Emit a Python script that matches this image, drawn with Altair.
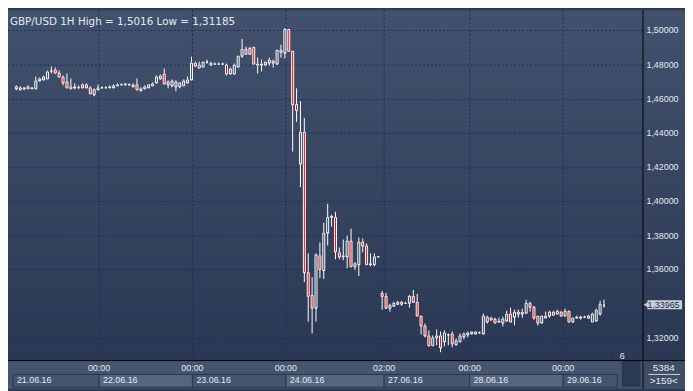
import altair as alt
import pandas as pd

# ---------------- data ----------------
opens = [1.4675, 1.4656, 1.4660, 1.4675, 1.4661, 1.4663, 1.4706, 1.4713, 1.4721, 1.4763,
         1.4771, 1.4756, 1.4729, 1.4702, 1.4663, 1.4670, 1.4666, 1.4686, 1.4667, 1.4667,
         1.4629, 1.4656, 1.4666, 1.4666, 1.4670, 1.4667, 1.4679, 1.4685, 1.4683, 1.4683,
         1.4671, 1.4686, 1.4652, 1.4660, 1.4667, 1.4679, 1.4696, 1.4719, 1.4747, 1.4685,
         1.4681, 1.4673, 1.4673, 1.4681, 1.4696, 1.4712, 1.4812, 1.4785, 1.4789, 1.4815,
         1.4812, 1.4806, 1.4806, 1.4806, 1.4800, 1.4747, 1.4747, 1.4789, 1.4852, 1.4893,
         1.4864, 1.4904, 1.4806, 1.4803, 1.4800, 1.4812, 1.4822, 1.4808, 1.4885, 1.4872,
         1.5007, 1.4883, 1.4567, 1.4220, 1.4405, 1.3583, 1.3452, 1.3375, 1.3683, 1.3598,
         1.3815, 1.3915, 1.3911, 1.3703, 1.3681, 1.3676, 1.3772, 1.3622, 1.3633, 1.3764,
         1.3741, 1.3635, 1.3633, 1.3675, 1.3463, 1.3444, 1.3378, 1.3390, 1.3398, 1.3410,
         1.3407, 1.3406, 1.3448, 1.3410, 1.3329, 1.3274, 1.3213, 1.3158, 1.3205, 1.3216,
         1.3178, 1.3219, 1.3224, 1.3163, 1.3178, 1.3209, 1.3220, 1.3224, 1.3224, 1.3231,
         1.3224, 1.3294, 1.3320, 1.3313, 1.3299, 1.3290, 1.3301, 1.3344, 1.3325, 1.3352,
         1.3344, 1.3348, 1.3406, 1.3383, 1.3329, 1.3290, 1.3320, 1.3332, 1.3355, 1.3344,
         1.3352, 1.3329, 1.3359, 1.3294, 1.3317, 1.3320, 1.3324, 1.3332, 1.3297, 1.3301,
         1.3340, 1.3396]
highs = [1.4679, 1.4671, 1.4670, 1.4679, 1.4670, 1.4729, 1.4725, 1.4737, 1.4767, 1.4787,
         1.4783, 1.4764, 1.4737, 1.4748, 1.4721, 1.4690, 1.4676, 1.4690, 1.4690, 1.4671,
         1.4660, 1.4686, 1.4673, 1.4673, 1.4676, 1.4682, 1.4690, 1.4690, 1.4693, 1.4690,
         1.4690, 1.4721, 1.4667, 1.4679, 1.4686, 1.4696, 1.4738, 1.4742, 1.4777, 1.4708,
         1.4712, 1.4708, 1.4699, 1.4711, 1.4731, 1.4847, 1.4816, 1.4816, 1.4819, 1.4831,
         1.4815, 1.4812, 1.4812, 1.4812, 1.4804, 1.4783, 1.4806, 1.4852, 1.4951, 1.4904,
         1.4902, 1.4907, 1.4839, 1.4831, 1.4818, 1.4839, 1.4829, 1.4887, 1.4918, 1.5016,
         1.5009, 1.4883, 1.4660, 1.4586, 1.4490, 1.3695, 1.3556, 1.3695, 1.3757, 1.3873,
         1.3984, 1.3919, 1.3938, 1.3730, 1.3776, 1.3799, 1.3838, 1.3641, 1.3788, 1.3784,
         1.3753, 1.3695, 1.3695, 1.3678, 1.3475, 1.3463, 1.3402, 1.3411, 1.3417, 1.3417,
         1.3411, 1.3452, 1.3479, 1.3459, 1.3330, 1.3282, 1.3244, 1.3213, 1.3248, 1.3240,
         1.3244, 1.3224, 1.3236, 1.3197, 1.3224, 1.3232, 1.3240, 1.3238, 1.3238, 1.3238,
         1.3340, 1.3332, 1.3325, 1.3320, 1.3320, 1.3325, 1.3359, 1.3375, 1.3363, 1.3363,
         1.3371, 1.3421, 1.3410, 1.3387, 1.3332, 1.3332, 1.3355, 1.3359, 1.3359, 1.3363,
         1.3359, 1.3371, 1.3359, 1.3320, 1.3329, 1.3329, 1.3330, 1.3336, 1.3348, 1.3371,
         1.3417, 1.3421]
lows = [1.4648, 1.4648, 1.4652, 1.4661, 1.4659, 1.4660, 1.4702, 1.4709, 1.4717, 1.4748,
        1.4748, 1.4725, 1.4679, 1.4663, 1.4660, 1.4656, 1.4659, 1.4661, 1.4661, 1.4625,
        1.4617, 1.4652, 1.4661, 1.4662, 1.4666, 1.4664, 1.4676, 1.4682, 1.4680, 1.4680,
        1.4667, 1.4652, 1.4644, 1.4656, 1.4664, 1.4676, 1.4692, 1.4716, 1.4685, 1.4661,
        1.4669, 1.4646, 1.4661, 1.4676, 1.4692, 1.4708, 1.4789, 1.4781, 1.4786, 1.4808,
        1.4797, 1.4803, 1.4803, 1.4803, 1.4735, 1.4742, 1.4742, 1.4783, 1.4841, 1.4858,
        1.4858, 1.4806, 1.4750, 1.4758, 1.4795, 1.4793, 1.4783, 1.4803, 1.4839, 1.4837,
        1.4881, 1.4293, 1.4466, 1.4084, 1.3525, 1.3297, 1.3228, 1.3297, 1.3549, 1.3545,
        1.3741, 1.3853, 1.3660, 1.3660, 1.3653, 1.3606, 1.3618, 1.3595, 1.3564, 1.3699,
        1.3630, 1.3618, 1.3622, 1.3674, 1.3367, 1.3371, 1.3355, 1.3385, 1.3394, 1.3387,
        1.3401, 1.3375, 1.3406, 1.3329, 1.3220, 1.3205, 1.3151, 1.3155, 1.3158, 1.31185,
        1.3151, 1.3158, 1.3147, 1.3155, 1.3174, 1.3193, 1.3205, 1.3220, 1.3220, 1.3226,
        1.3220, 1.3286, 1.3301, 1.3290, 1.3290, 1.3267, 1.3294, 1.3294, 1.3274, 1.3320,
        1.3320, 1.3340, 1.3352, 1.3309, 1.3274, 1.3284, 1.3320, 1.3320, 1.3330, 1.3340,
        1.3329, 1.3329, 1.3294, 1.3290, 1.3313, 1.3309, 1.3319, 1.3313, 1.3294, 1.3294,
        1.3332, 1.3378]
closes = [1.4660, 1.4667, 1.4667, 1.4663, 1.4667, 1.4709, 1.4721, 1.4729, 1.4760, 1.4766,
          1.4756, 1.4729, 1.4698, 1.4667, 1.4675, 1.4673, 1.4668, 1.4667, 1.4686, 1.4632,
          1.4656, 1.4667, 1.4668, 1.4668, 1.4672, 1.4679, 1.4686, 1.4687, 1.4690, 1.4686,
          1.4686, 1.4656, 1.4663, 1.4675, 1.4683, 1.4692, 1.4731, 1.4738, 1.4692, 1.4700,
          1.4708, 1.4704, 1.4696, 1.4708, 1.4715, 1.4812, 1.4796, 1.4800, 1.4816, 1.4817,
          1.4800, 1.4808, 1.4808, 1.4807, 1.4747, 1.4780, 1.4800, 1.4851, 1.4893, 1.4866,
          1.4897, 1.4808, 1.4803, 1.4806, 1.4816, 1.4827, 1.4809, 1.4885, 1.4874, 1.5007,
          1.4883, 1.4567, 1.4532, 1.4405, 1.3583, 1.3444, 1.3375, 1.3687, 1.3602, 1.3815,
          1.3907, 1.3907, 1.3707, 1.3676, 1.3678, 1.3772, 1.3622, 1.3637, 1.3764, 1.3741,
          1.3633, 1.3633, 1.3679, 1.3676, 1.3444, 1.3378, 1.3394, 1.3406, 1.3413, 1.3398,
          1.3405, 1.3448, 1.3410, 1.3329, 1.3274, 1.3216, 1.3158, 1.3205, 1.3213, 1.3143,
          1.3232, 1.3220, 1.3167, 1.3186, 1.3216, 1.3224, 1.3232, 1.3236, 1.3236, 1.3233,
          1.3329, 1.3325, 1.3305, 1.3290, 1.3296, 1.3313, 1.3344, 1.3297, 1.3355, 1.3340,
          1.3355, 1.3406, 1.3383, 1.3320, 1.3290, 1.3329, 1.3332, 1.3352, 1.3336, 1.3359,
          1.3332, 1.3359, 1.3294, 1.3317, 1.3325, 1.3322, 1.3325, 1.3317, 1.3340, 1.3363,
          1.3398, 1.33965]

price_ticks = [1.32, 1.34, 1.36, 1.38, 1.40, 1.42, 1.44, 1.46, 1.48, 1.50]
# time-axis separators, in candle-index units
sep_pos = [21.25, 45.25, 69.25, 94.5, 116.5, 140.5]
sep_labels = ["00:00", "00:00", "00:00", "02:00", "00:00", "00:00"]
day_labels = ["21.06.16", "22.06.16", "23.06.16", "24.06.16", "27.06.16", "28.06.16", "29.06.16"]
day_start = [-0.875, 21.25, 45.25, 69.25, 94.5, 116.5, 140.5]
day_end = [21.25, 45.25, 69.25, 94.5, 116.5, 140.5, 154.4]
title_text = "GBP/USD 1H High = 1,5016 Low = 1,31185"
last_price = 1.33965
bars_count_text = "5384"
bars_visible_text = ">159<"
scroll_text = "6"

# ---------------- styling ----------------
W, H = 642, 354
RP, BP = 43, 29
FONT = "Liberation Sans"
TXT = "#e3e9f2"
GRID = "#1b3158"
RED = "#ff0000"

df = pd.DataFrame({"i": list(range(len(opens))), "o": opens, "h": highs, "l": lows, "c": closes})
df["top"] = df[["o", "c"]].max(axis=1)
df["bot"] = df[["o", "c"]].min(axis=1)

# 4 px per candle, candle centres on half pixels (crisp 1px wicks)
xs = alt.Scale(domain=[-0.875, 159.625], nice=False, zero=False)
ys = alt.Scale(domain=[1.30698, 1.51186], nice=False, zero=False, round=True)

one = pd.DataFrame({"a": [0]})

grad = alt.LinearGradient(
    gradient="linear",
    stops=[alt.GradientStop(color="#42516d", offset=0), alt.GradientStop(color="#2b3853", offset=1)],
    x1=0, x2=0, y1=0, y2=1,
)
bg = alt.Chart(one).mark_rect(color=grad).encode(
    x=alt.value(0), x2=alt.value(W + RP), y=alt.value(0), y2=alt.value(H)
)

ticks_df = pd.DataFrame({"v": price_ticks})
hgrid = alt.Chart(ticks_df).mark_rule(
    color=GRID, strokeDash=[2, 2], strokeWidth=1, yOffset=0.5
).encode(y=alt.Y("v:Q", scale=ys, axis=None), x=alt.value(0), x2=alt.value(W))

# price labels on the right (1.34 is hidden behind the last-price marker)
ylabels = alt.Chart(ticks_df).transform_filter(
    "abs(datum.v - 1.34) > 0.001"
).transform_calculate(
    lab="replace(format(datum.v, '.5f'), '.', ',')"
).mark_text(align="left", baseline="middle", font=FONT, fontSize=9, color=TXT).encode(
    y=alt.Y("v:Q", scale=ys, axis=None), x=alt.value(W + 4), text="lab:N")

vgrid = alt.Chart(pd.DataFrame({"g": sep_pos})).mark_rule(
    color=GRID, strokeDash=[2, 2], strokeWidth=1
).encode(x=alt.X("g:Q", scale=xs, axis=None), y=alt.value(0), y2=alt.value(H))

X = alt.X("i:Q", scale=xs, axis=None)
wick_up = alt.Chart(df).mark_rule(color="white", strokeWidth=1).encode(
    x=X, y=alt.Y("top:Q", scale=ys, axis=None), y2="h:Q")
wick_dn = alt.Chart(df).mark_rule(color="white", strokeWidth=1).encode(
    x=X, y=alt.Y("l:Q", scale=ys, axis=None), y2="bot:Q")
bodies = alt.Chart(df).mark_bar(size=2, stroke="white", strokeWidth=1, yOffset=0.5, y2Offset=0.5).encode(
    x=X, y=alt.Y("top:Q", scale=ys, axis=None), y2="bot:Q",
    fill=alt.condition(alt.datum.c < alt.datum.o, alt.value(RED), alt.value("transparent")),
)

title = alt.Chart(one).mark_text(
    align="left", baseline="alphabetic", font="DejaVu Sans", fontSize=10.5, color=TXT
).encode(x=alt.value(2), y=alt.value(14.5), text=alt.value(title_text))

# bottom band
band = alt.Chart(one).mark_rect(color="#46556e").encode(
    x=alt.value(0), x2=alt.value(W + RP), y=alt.value(H), y2=alt.value(H + BP))
days = pd.DataFrame({"s": day_start, "e": day_end, "lab": day_labels, "k": list(range(len(day_labels)))})
day_boxes = alt.Chart(days).mark_rect(stroke="#283754", strokeWidth=1).encode(
    x=alt.X("s:Q", scale=xs, axis=None), x2="e:Q",
    y=alt.value(H + 14.5), y2=alt.value(H + 27.5),
    fill=alt.condition("datum.k % 2 == 1", alt.value("#56657e"), alt.value("#46556e")),
)
day_text = alt.Chart(days).mark_text(
    align="left", baseline="middle", dx=4, font=FONT, fontSize=9, color=TXT
).encode(x=alt.X("s:Q", scale=xs, axis=None), y=alt.value(H + 20), text="lab:N")
seps = pd.DataFrame({"g": sep_pos, "t": sep_labels})
sep_text = alt.Chart(seps).mark_text(
    align="center", baseline="middle", font=FONT, fontSize=9, color=TXT
).encode(x=alt.X("g:Q", scale=xs, axis=None), y=alt.value(H + 8.5), text="t:N")

scroll_box = alt.Chart(one).mark_rect(color="#2c3954").encode(
    x=alt.value(621), x2=alt.value(640), y=alt.value(H + 1), y2=alt.value(H + 27))
scroll_num = alt.Chart(one).mark_text(font=FONT, fontSize=9, color=TXT, baseline="middle").encode(
    x=alt.value(621.5), y=alt.value(H - 4.5), text=alt.value(scroll_text))
scroll_tri = alt.Chart(one).mark_point(shape="triangle-up", filled=True, size=22, color="#26324b", opacity=1).encode(
    x=alt.value(612), y=alt.value(H - 4))

corner_box = alt.Chart(one).mark_rect(color="#3f4d67").encode(
    x=alt.value(W + 1), x2=alt.value(W + RP), y=alt.value(H + 1), y2=alt.value(H + BP))
corner_line = alt.Chart(one).mark_rule(color="#c8d0dc", strokeWidth=1).encode(
    x=alt.value(W + 6), x2=alt.value(W + 38), y=alt.value(H + 14.5))
corner_t1 = alt.Chart(one).mark_text(font=FONT, fontSize=10, color=TXT, baseline="middle").encode(
    x=alt.value(W + 21.5), y=alt.value(H + 8), text=alt.value(bars_count_text))
corner_t2 = alt.Chart(one).mark_text(font=FONT, fontSize=10, color=TXT, baseline="middle").encode(
    x=alt.value(W + 21.5), y=alt.value(H + 21), text=alt.value(bars_visible_text))

vline = alt.Chart(one).mark_rule(color="black", strokeWidth=1).encode(
    x=alt.value(W + 0.5), y=alt.value(0), y2=alt.value(H + BP))
hline = alt.Chart(one).mark_rule(color="black", strokeWidth=1).encode(
    x=alt.value(0), x2=alt.value(W + RP), y=alt.value(H + 0.5))

lp = pd.DataFrame({"p": [last_price], "t": [f"{last_price:.5f}".replace(".", ",")]})
mk_box = alt.Chart(lp).mark_rule(color="#c9ced8", strokeWidth=9).encode(
    x=alt.value(W + 5), x2=alt.value(W + 40), y=alt.Y("p:Q", scale=ys, axis=None))
mk_tri = alt.Chart(lp).mark_point(shape="triangle-left", filled=True, size=45, color="#c9ced8", opacity=1).encode(
    x=alt.value(W + 4), y=alt.Y("p:Q", scale=ys, axis=None))
mk_txt = alt.Chart(lp).mark_text(align="left", baseline="middle", font=FONT, fontSize=9, color="#1f2b47").encode(
    x=alt.value(W + 5), y=alt.Y("p:Q", scale=ys, axis=None), text="t:N")

chart = alt.layer(
    bg, hgrid, vgrid, wick_up, wick_dn, bodies, title, ylabels,
    band, day_boxes, day_text, sep_text, scroll_box, scroll_num, scroll_tri,
    corner_box, corner_line, corner_t1, corner_t2, vline, hline,
    mk_box, mk_tri, mk_txt,
).properties(
    width=W, height=H, autosize="none",
    padding={"left": 0, "top": 0, "right": RP, "bottom": BP},
    background="#2d3a55",
).configure_view(stroke=None)

chart.save("out.html", embed_options={"renderer": "svg", "actions": False})
